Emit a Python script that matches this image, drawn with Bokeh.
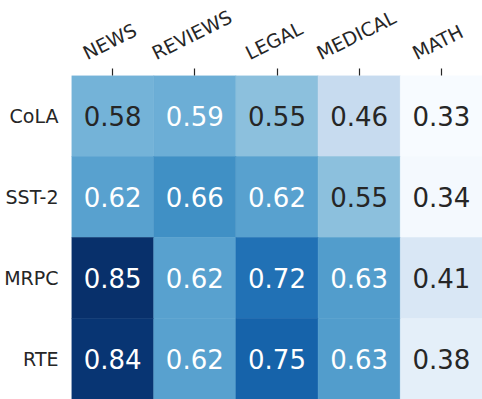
import math
import numpy as np
from bokeh.plotting import figure
from bokeh.layouts import column
from bokeh.models import ColumnDataSource, Range1d
from bokeh.core.properties import value
from bokeh.embed import file_html
from bokeh.resources import INLINE

columns = ["NEWS", "REVIEWS", "LEGAL", "MEDICAL", "MATH"]
rows = ["CoLA", "SST-2", "MRPC", "RTE"]
cola = [0.58, 0.59, 0.55, 0.46, 0.33]
sst2 = [0.62, 0.66, 0.62, 0.55, 0.34]
mrpc = [0.85, 0.62, 0.72, 0.63, 0.41]
rte = [0.84, 0.62, 0.75, 0.63, 0.38]
matrix = [cola, sst2, mrpc, rte]

# matplotlib "Blues" control points
blues = np.array([
    (0.968627, 0.984314, 1.000000),
    (0.870588, 0.921569, 0.968627),
    (0.776471, 0.858824, 0.937255),
    (0.619608, 0.792157, 0.882353),
    (0.419608, 0.682353, 0.839216),
    (0.258824, 0.572549, 0.776471),
    (0.129412, 0.443137, 0.709804),
    (0.031373, 0.317647, 0.611765),
    (0.031373, 0.188235, 0.419608),
])
pos = np.linspace(0, 1, len(blues))

vals = np.array(matrix)
vmin, vmax = vals.min(), vals.max()


def cmap(v):
    t = (v - vmin) / (vmax - vmin)
    t = np.floor(t * 255 + 1e-9) / 255
    return [np.interp(t, pos, blues[:, i]) for i in range(3)]


def lum(rgb):
    lin = [c / 12.92 if c <= 0.03928 else ((c + 0.055) / 1.055) ** 2.4 for c in rgb]
    return 0.2126 * lin[0] + 0.7152 * lin[1] + 0.0722 * lin[2]


def to_hex(rgb):
    return "#%02x%02x%02x" % tuple(int(round(c * 255)) for c in rgb)


xs, ys, fills, labels, tcolors = [], [], [], [], []
for r, rowname in enumerate(rows):
    for c, colname in enumerate(columns):
        v = matrix[r][c]
        rgb = cmap(v)
        xs.append(colname)
        ys.append(rowname)
        fills.append(to_hex(rgb))
        labels.append("%.2f" % v)
        tcolors.append("#262626" if lum(rgb) > 0.408 else "#ffffff")

src = ColumnDataSource(dict(x=xs, y=ys, fill=fills, label=labels, tc=tcolors))

W = 482
TOP_H = 68      # band holding the rotated column labels
MAIN_H = 331
LEFT = 71
TICK = 7

p = figure(x_range=columns, y_range=list(reversed(rows)), x_axis_location="above",
           width=W, height=MAIN_H, output_backend="svg", toolbar_location=None,
           min_border_left=LEFT, min_border_top=TICK, min_border_right=0, min_border_bottom=0)
p.outline_line_color = None
p.grid.visible = False

p.rect(x="x", y="y", width=1, height=1, source=src, fill_color="fill",
       line_color="fill", line_width=0.5)
p.text(x="x", y="y", text="label", source=src, text_color="tc",
       text_align="center", text_baseline="middle",
       text_font=value("DejaVu Sans"), text_font_size="26px")

for ax in (p.xaxis[0], p.yaxis[0]):
    ax.axis_line_color = None
    ax.major_label_text_font = "DejaVu Sans"
    ax.major_label_text_font_size = "19px"
    ax.major_label_text_color = "#262626"
    ax.minor_tick_line_color = None
    ax.major_tick_in = 0

p.xaxis.major_tick_out = TICK
p.xaxis.major_tick_line_color = "#262626"
p.xaxis.major_tick_line_width = 1.2
p.xaxis.major_label_text_color = None
p.xaxis.major_label_text_font_size = "0px"
p.xaxis.major_label_standoff = 0
p.yaxis.major_tick_out = 0
p.yaxis.major_tick_line_color = None
p.yaxis.major_label_standoff = 13

# rotated column labels, bounding box centred over each tick (matplotlib style)
ANGLE = math.radians(26.5)
FS = 19
ADV = {"A": .684, "C": .698, "D": .770, "E": .632, "G": .775, "H": .752, "I": .295,
       "L": .557, "M": .863, "N": .748, "R": .695, "S": .635, "T": .611, "V": .684,
       "W": .989}
offs = [-(sum(ADV.get(ch, .65) for ch in name) * FS * math.cos(ANGLE) / 2 + 3)
        for name in columns]
BASE = 14.5     # label baseline height above the bottom of the band, px
top_src = ColumnDataSource(dict(x=columns, y=[BASE] * len(columns), t=columns, dx=offs))

top = figure(x_range=p.x_range, y_range=Range1d(0, TOP_H), width=W, height=TOP_H,
             output_backend="svg", toolbar_location=None,
             x_axis_location=None, y_axis_location=None,
             min_border_left=LEFT, min_border_top=0, min_border_right=0, min_border_bottom=0)
top.outline_line_color = None
top.grid.visible = False
top.text(x="x", y="y", text="t", source=top_src, angle=ANGLE, x_offset="dx",
         text_align="left", text_baseline="alphabetic",
         text_font=value("DejaVu Sans"), text_font_size="19px", text_color="#262626")

layout = column(top, p, spacing=0)
open("out.html", "w").write(file_html(layout, INLINE))
